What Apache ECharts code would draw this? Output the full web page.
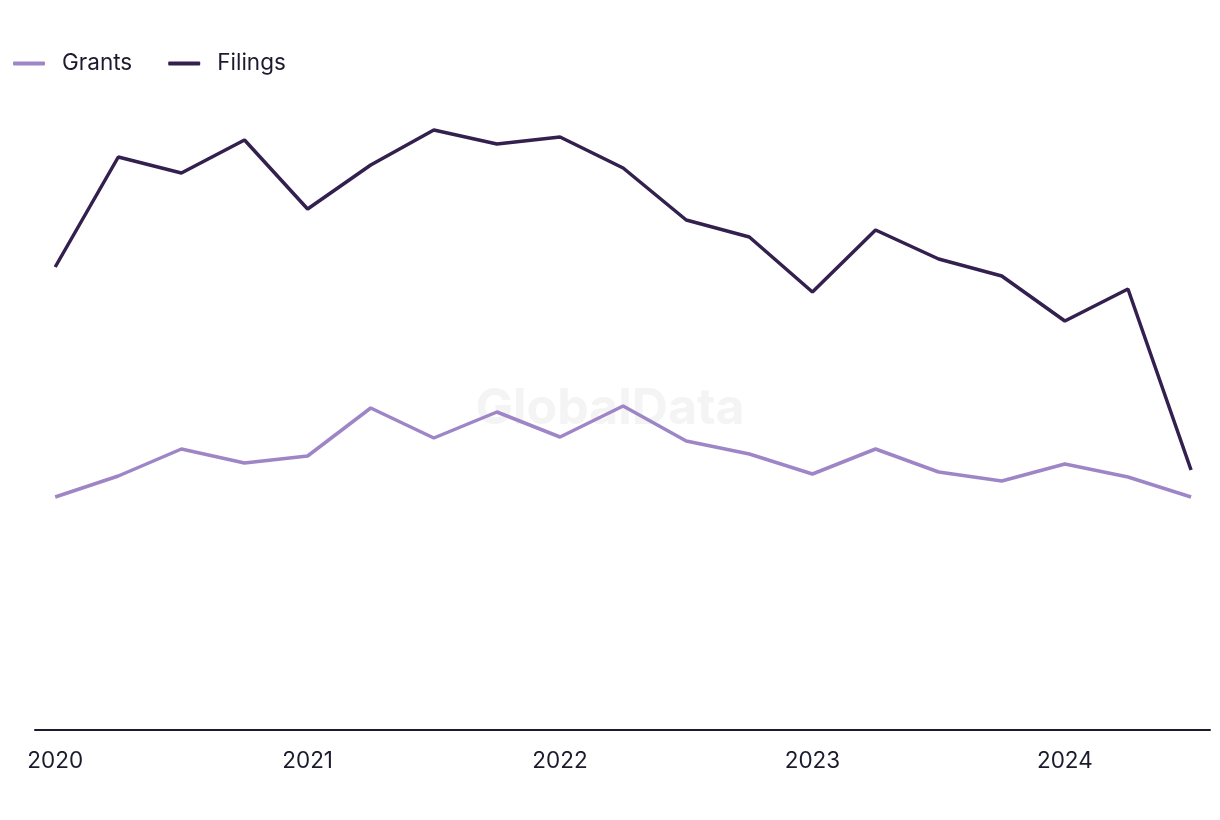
<!DOCTYPE html>
<html>
<head>
<meta charset="utf-8">
<script src="https://cdn.jsdelivr.net/npm/echarts@6/dist/echarts.min.js"></script>
<style>
html,body{margin:0;padding:0;background:#fff;}
#chart{width:1220px;height:820px;}
</style>
</head>
<body>
<div id="chart"></div>
<script>
// Quarterly periods, 2020 Q1 .. 2024 Q3 (index positions on the x axis)
const quarters = ['2020 Q1','2020 Q2','2020 Q3','2020 Q4','2021 Q1','2021 Q2','2021 Q3','2021 Q4','2022 Q1','2022 Q2','2022 Q3','2022 Q4','2023 Q1','2023 Q2','2023 Q3','2023 Q4','2024 Q1','2024 Q2','2024 Q3'];
const yearLabels = ['2020','2021','2022','2023','2024'];
const yearLabelIndex = [0, 4, 8, 12, 16];
// Values (relative scale, no y labels shown)
const grants  = [233, 254, 281, 267, 274, 322, 292, 318, 293, 324, 289, 276, 256, 281, 258, 249, 266, 253, 233];
const filings = [463, 573, 557, 590, 521, 565, 600, 586, 593, 562, 510, 493, 438, 500, 471, 454, 409, 441, 260];

const chart = echarts.init(document.getElementById('chart'));
const font = 'Inter, "Noto Sans", sans-serif';
const toPairs = arr => arr.map((v, i) => [i, v]);

chart.setOption({
  animation: false,
  backgroundColor: '#ffffff',
  graphic: [{
    type: 'text',
    left: 'center',
    top: 384,
    style: { text: 'GlobalData', font: 'bold 50px ' + font, fill: '#f4f4f5' },
    z: 0
  }],
  legend: {
    left: 8,
    top: 47,
    itemWidth: 32,
    itemHeight: 4,
    itemGap: 36,
    icon: 'roundRect',
    textStyle: { fontFamily: font, fontSize: 22.5, color: '#1c1b2e', padding: [0, 0, 0, 12] },
    data: ['Grants', 'Filings']
  },
  grid: { left: 35, right: 10, top: 100, bottom: 90 },
  xAxis: {
    type: 'value',
    min: -0.32,
    max: 18.3,
    splitLine: { show: false },
    axisTick: { show: false },
    axisLine: { show: true, onZero: false, lineStyle: { color: '#1b1b2b', width: 2 } },
    axisLabel: {
      customValues: yearLabelIndex,
      formatter: v => yearLabels[yearLabelIndex.indexOf(Math.round(v))] || '',
      fontFamily: font, fontSize: 22.5, color: '#1c1b2e', margin: 20
    }
  },
  yAxis: {
    type: 'value', min: 0, max: 630,
    show: false, splitLine: { show: false }
  },
  series: [
    { name: 'Grants', type: 'line', data: toPairs(grants), symbol: 'none',
      lineStyle: { color: '#9e86c6', width: 3.5 }, itemStyle: { color: '#9e86c6' }, z: 3 },
    { name: 'Filings', type: 'line', data: toPairs(filings), symbol: 'none',
      lineStyle: { color: '#33204f', width: 3.5 }, itemStyle: { color: '#33204f' }, z: 4 }
  ]
});
</script>
</body>
</html>
